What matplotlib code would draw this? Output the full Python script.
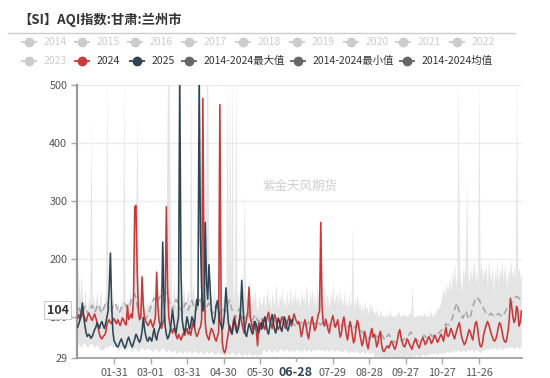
import numpy as np
import pandas as pd
import matplotlib
matplotlib.use("Agg")
import matplotlib.pyplot as plt

plt.rcParams['font.family'] = ['Noto Sans CJK SC', 'DejaVu Sans']

title = "【SI】AQI指数:甘肃:兰州市"
watermark = "紫金天风期货"

# ---------------- data (day index on a 366-day MM-DD axis) ----------------
y2024 = (
    [98,104,95,100,108,102,96,92,100,106,103,97,94,100,105,98,90,80,70,64,62,66,68,72,85,92,95,90,88,94,97]
    + [92,88,95,90,85,92,98,94,88,86,120,95,100,105,98,135,290,292,180,110,95,100,169,120,98,92,88,85,90]
    + [95,88,82,90,100,177,120,92,85,80,88,95,130,290,150,100,85,78,72,80,75,68,62,70,65,60,66,72,68,75,80]
    + [70,75,68,80,90,85,72,66,70,78,82,95,477,180,90,70,65,60,72,80,76,70,62,58,66,74,466,120,55,42]
    + [38,45,60,72,85,80,70,92,100,88,76,82,95,105,90,80,72,85,98,110,151,100,88,78,92,85,75,50,90,84,78]
    + [95,85,78,90,100,108,96,88,80,92,104,98,86,78,84,92,100,95,88,80,86,94,102,90,84,96,105,98,92,88]
    + [92,80,66,75,88,95,84,70,62,78,92,100,88,76,82,94,105,110,263,120,90,84,96,88,78,72,85,95,102,90,82]
    + [88,95,78,65,72,90,100,85,70,60,76,92,84,68,55,62,80,94,88,72,60,50,58,75,66,52,45,60,72,80,65]
    + [70,62,48,55,68,75,52,42,40,44,48,50,46,52,58,55,48,44,50,60,72,78,65,56,50,48,54,62,58,52]
    + [48,44,52,58,62,55,50,46,54,60,64,58,52,56,62,66,60,54,58,64,68,62,56,60,66,70,64,58,72,82,68]
    + [66,72,80,75,68,62,70,78,85,90,76,64,58,52,55,62,70,78,74,66,60,75,88,92,80,62,50,48,55,70]
    + [78,85,92,88,80,72,66,60,58,62,70,82,90,86,76,64,58,56,62,75,95,132,118,100,90,96,118,112,84,90,110]
)

y2025 = (
    [82,88,95,110,124,100,85,72,66,70,68,63,66,72,78,82,90,85,80,88,92,85,80,88,98,110,150,210,120,75,58]
    + [55,50,48,52,58,62,55,50,46,52,60,65,58,52,48,55,62,70,66,60,56,62,75,99,80,68,60,58,65]
    + [62,58,70,80,66,60,72,78,85,90,229,130,85,70,62,66,75,90,112,95,80,72,88,100,520,180,95,80,72,85,100]
    + [90,78,85,100,95,82,110,130,120,520,240,150,110,120,263,160,130,190,150,110,95,88,100,120,128,110,92,85,78,88]
    + [110,150,120,90,80,75,70,85,95,80,72,78,90,110,163,120,85,70,66,78,88,82,75,70,80,92,86,78,72,84,90]
    + [80,92,100,88,76,70,82,95,104,90,78,72,85,98,92,80,75,88,100,94,82,76,84,96,90,95]
)

v_mean = (
    [112,115,110,105,108,112,118,115,108,104,110,116,120,114,108,112,118,122,116,110,106,112,118,124,126,120,114,108,112,118,122]
    + [124,118,112,106,110,116,120,124,122,118,114,116,120,128,134,138,140,132,120,108,100,96,94,96,98,96,100,104,110]
    + [116,122,128,132,130,124,128,132,136,140,142,146,144,140,138,130,122,116,112,118,124,130,126,120,116,112,108,114,120,124,118]
    + [112,118,124,128,122,116,110,114,120,126,130,124,118,112,108,114,120,124,118,112,106,110,116,120,114,108,104,110,116,112]
    + [108,112,118,124,129,120,112,106,102,98,104,110,114,108,102,98,96,100,104,108,102,96,92,96,100,104,98,94,92,96,100]
    + [96,92,90,94,98,95,90,88,92,96,94,90,87,90,94,92,88,86,90,93,91,88,86,89,92,90,87,85,88,90]
    + [88,86,89,92,90,87,85,88,91,94,92,89,86,88,91,93,90,88,86,89,92,90,88,86,84,87,90,88,86,84,86]
    + [88,86,84,82,85,88,86,83,80,82,85,87,84,81,79,82,86,84,80,78,76,74,72,70,68,66,64,62,65,68,66]
    + [70,68,66,64,68,72,70,66,62,60,64,68,70,66,62,60,58,56,55,57,60,62,60,58,60,62,64,66,68,70]
    + [74,70,66,64,62,60,58,60,62,64,66,68,66,64,66,68,70,68,66,68,70,72,70,72,74,76,78,80,84,88,86]
    + [86,88,92,96,104,112,118,124,116,108,102,100,98,104,110,106,100,96,100,108,116,124,130,134,132,130,126,122,118,114]
    + [110,106,104,102,104,106,104,102,100,102,104,106,104,102,100,104,106,110,114,118,116,120,124,128,130,134,135,134,132,130,128]
)

v_min = (
    [55,52,50,48,52,56,54,50,47,50,53,55,52,49,47,50,52,48,45,44,42,44,46,50,48,46,50,52,49,47,50]
    + [48,46,44,42,45,48,46,43,41,44,47,49,46,43,41,44,47,45,42,40,43,46,48,45,42,44,47,45,43]
    + [44,42,40,43,46,44,41,39,42,45,47,44,41,39,42,44,41,38,40,43,41,38,36,39,42,40,37,39,42,40,38]
    + [40,42,39,37,40,43,41,38,36,39,42,40,37,35,38,41,39,36,38,41,39,36,34,37,40,38,35,37,36,34]
    + [33,35,38,36,34,37,40,38,35,33,36,39,37,34,32,35,38,36,33,35,38,36,34,32,35,37,34,32,35,37,34]
    + [42,44,41,39,42,45,43,40,38,41,44,42,39,41,44,46,43,40,42,45,43,41,39,42,44,42,40,43,45,42]
    + [44,41,39,42,45,43,40,42,44,41,39,42,45,43,41,44,46,43,41,44,42,40,43,45,42,40,43,45,42,40,42]
    + [44,42,40,43,41,39,42,44,41,39,37,40,42,40,38,41,43,40,38,36,39,41,38,36,39,41,38,36,39,37,39]
    + [31,29,32,34,31,29,32,30,29,31,33,30,29,31,33,31,29,31,33,30,29,31,33,31,30,32,34,31,29,31]
    + [30,32,34,31,33,35,32,30,33,35,37,34,32,35,37,34,36,38,35,37,39,36,34,37,39,36,38,40,37,39,41]
    + [38,40,42,39,41,43,40,42,44,41,39,42,44,41,39,42,44,41,43,45,42,40,43,45,42,40,38,40,42,44]
    + [42,44,46,43,45,47,44,46,48,45,43,46,48,45,43,46,48,45,47,49,46,48,50,47,45,48,50,47,45,48,50]
)

v_max = (
    [190,160,130,175,125,115,150,120,110,135,125,440,120,140,115,130,145,112,125,150,118,110,128,140,520,125,115,150,120,135,110]
    + [120,105,130,112,100,140,115,520,125,108,135,118,150,122,110,145,295,300,450,128,112,135,175,140,118,106,130,115,125]
    + [130,112,150,118,125,180,135,110,160,128,145,120,170,295,520,520,300,140,118,165,130,112,150,520,125,145,118,160,130,112,140]
    + [145,120,520,135,160,125,115,150,130,118,140,165,480,190,135,520,520,150,122,140,115,160,130,112,145,125,470,135,118,140]
    + [130,150,520,115,520,140,520,125,160,520,130,145,118,150,135,120,320,140,125,155,160,130,115,140,125,150,118,110,135,125,120]
    + [125,140,115,130,150,120,135,110,145,125,118,160,130,112,140,125,150,118,135,110,145,120,130,155,115,140,125,148,120,135]
    + [130,115,150,125,140,118,160,135,112,145,128,150,120,140,115,155,130,160,270,145,125,150,118,140,130,115,145,125,160,120,135]
    + [140,120,150,125,135,115,145,120,130,110,140,118,125,262,112,130,120,140,115,125,110,120,105,130,112,118,104,125,110,120,108]
    + [108,104,118,100,102,112,100,104,100,102,106,100,104,112,100,102,100,104,100,108,110,100,102,104,100,106,102,100,104,108]
    + [104,155,100,102,100,104,100,106,102,100,104,108,100,104,102,100,112,104,100,108,104,110,118,112,120,128,140,150,135,160,145]
    + [150,170,140,180,160,195,150,175,520,190,160,145,185,170,200,340,175,155,190,165,180,200,160,185,150,520,175,195,160,185]
    + [170,190,150,200,175,160,190,140,180,165,195,150,185,170,200,160,190,175,150,185,165,200,180,170,190,160,520,175,185,165,180]
)

legend_row1 = ["2014", "2015", "2016", "2017", "2018", "2019", "2020", "2021", "2022"]
legend_row2 = ["2023", "2024", "2025", "2014-2024最大值", "2014-2024最小值", "2014-2024均值"]

y_ticks = [29, 100, 200, 300, 400, 500]
crosshair_value = 104
crosshair_day = "06-28"

# ---------------- figure ----------------
dates = pd.date_range("2024-01-01", periods=366, freq="D")
day_labels = [d.strftime("%m-%d") for d in dates]
x_all = np.arange(366)

RED = "#c9383a"
BLUE = "#2f4554"

fig = plt.figure(figsize=(5.5, 3.78), dpi=100)
ax = fig.add_axes([77/550, 1 - 358/378, (522-77)/550, (358-85)/378])

ax.fill_between(x_all, v_min, v_max, color="#e4e4e4", lw=0, zorder=1)
ax.plot(x_all, v_mean, color="#a8a8a8", lw=1.2, ls=(0, (4, 2.5)), zorder=2)
ax.plot(x_all, y2024, color=RED, lw=1.15, zorder=3)
ax.plot(np.arange(len(y2025)), y2025, color=BLUE, lw=1.15, zorder=4)

ax.set_xlim(-0.5, 365.5)
ax.set_ylim(29, 500)

for v in [200, 300, 400, 500]:
    ax.axhline(v, color="#ececec", lw=1, zorder=0)

ax.set_yticks(y_ticks)
ax.set_yticklabels([str(v) for v in y_ticks])
ci = day_labels.index(crosshair_day)
tick_idx = [i for i in range(30, 331, 30)]
ax.set_xticks(tick_idx)
ax.set_xticklabels(["" if abs(i - ci) <= 1 else day_labels[i] for i in tick_idx])
ax.tick_params(axis="both", labelsize=7.8, colors="#aaaaaa", labelcolor="#555555",
               length=4, width=1)
ax.tick_params(axis="x", pad=3)
ax.tick_params(axis="y", pad=3)

for s in ["top", "right"]:
    ax.spines[s].set_visible(False)
ax.spines["left"].set_color("#999999")
ax.spines["left"].set_linewidth(1.6)
ax.spines["bottom"].set_color("#999999")
ax.spines["bottom"].set_linewidth(1.2)

# watermark
ax.text(0.5, 0.63, watermark, transform=ax.transAxes, ha="center", va="center",
        fontsize=9, color="#cfcfcf", zorder=5)

# crosshair labels
ax.annotate(str(crosshair_value), xy=(0, crosshair_value), xycoords=("axes fraction", "data"),
            xytext=(-14, 3), textcoords="offset points", ha="center", va="center",
            fontsize=9, fontweight="bold", color="#333333", zorder=10, annotation_clip=False,
            bbox=dict(boxstyle="square,pad=0.2", fc="white", ec="#cccccc", lw=0.8))
ax.annotate(crosshair_day, xy=(ci, 0), xycoords=("data", "axes fraction"),
            xytext=(0, -10.5), textcoords="offset points", ha="center", va="center",
            fontsize=9, fontweight="bold", color=BLUE, zorder=10, annotation_clip=False,
            bbox=dict(boxstyle="square,pad=0.35", fc="white", ec="none"))

# overlay in pixel coordinates for title / legend
ov = fig.add_axes([0, 0, 1, 1], facecolor="none")
ov.set_xlim(0, 550)
ov.set_ylim(378, 0)
ov.axis("off")

ov.text(18, 20, title, fontsize=9.5, fontweight="bold", color="#333333", va="center", ha="left")
ov.plot([8, 515], [33, 33], color="#cccccc", lw=1)

row1_x = [29, 82, 135, 189, 243, 297, 351, 403, 457]
row2_x = [29, 82, 137, 189, 298, 407]
row2_col = ["#cccccc", RED, BLUE, "#666666", "#666666", "#666666"]

def legend_item(cx, cy, label, color, txtcolor):
    ov.plot([cx - 8, cx + 8], [cy, cy], color=color, lw=1.3, solid_capstyle="butt")
    ov.plot([cx], [cy], marker="o", ms=6, color=color, mec=color)
    ov.text(cx + 15, cy, label, fontsize=7.5, color=txtcolor, va="center", ha="left")

for cx, lab in zip(row1_x, legend_row1):
    legend_item(cx, 42, lab, "#cccccc", "#cccccc")
for cx, lab, col in zip(row2_x, legend_row2, row2_col):
    legend_item(cx, 61, lab, col, "#cccccc" if col == "#cccccc" else "#333333")

fig.savefig("out.png", dpi=100)
